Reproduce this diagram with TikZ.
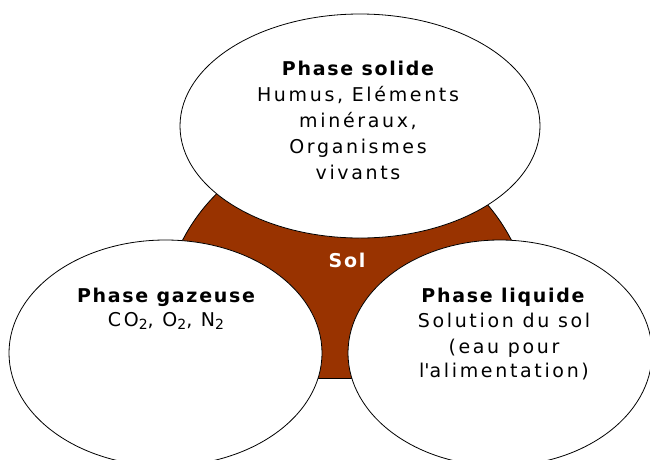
\documentclass[tikz,border=0pt]{standalone}
\usepackage{fontspec}
\setmainfont{DejaVu Sans}[LetterSpace=14,BoldFeatures={LetterSpace=9}]
\usetikzlibrary{shapes.geometric}
\definecolor{soilbrown}{RGB}{153,51,0}
\newcommand{\bigsub}[1]{\raisebox{-0.18em}{\fontsize{14}{14}\selectfont #1}}
\begin{document}
\begin{tikzpicture}[x=1pt,y=-1pt,line width=0.8pt,
  phase/.style={ellipse,draw=black,fill=white,inner sep=0pt},
  txt/.style={anchor=base,inner sep=0pt,font=\fontsize{19}{19}\selectfont},
  head/.style={anchor=base,inner sep=0pt,font=\fontsize{19}{19}\selectfont\bfseries}]
\useasboundingbox (0,0) rectangle (650,459);
\fill[white] (0,0) rectangle (650,459);
% soil (brown) region behind the three phases
\begin{scope}
  \clip (0,0) rectangle (650,378);
  \node[circle,draw=black,fill=soilbrown,minimum size=370pt,inner sep=0pt] (sol) at (347,325) {};
\end{scope}
\coordinate (bl) at (170,378);
\coordinate (br) at (524,378);
\draw (bl) -- (br);
% phases
\node[phase,minimum width=360pt,minimum height=224pt] (solide) at (360,126) {};
\node[phase,minimum width=313pt,minimum height=226pt] (gaz) at (165.5,353) {};
\node[phase,minimum width=304pt,minimum height=226pt] (liq) at (500,353) {};
% texts
\node[head] (ts1) at (358,75) {Phase solide};
\node[txt] (ts2) at (358,101) {Humus, Eléments};
\node[txt] (ts3) at (358,127) {minéraux,};
\node[txt] (ts4) at (358,153) {Organismes};
\node[txt] (ts5) at (358,179) {vivants};
\node[head] (tg1) at (166,302) {Phase gazeuse};
\node[txt] (tg2) at (166,326) {CO\bigsub{2}, O\bigsub{2}, N\bigsub{2}};
\node[head] (tl1) at (503,302) {Phase liquide};
\node[txt] (tl2) at (504,327) {Solution du sol};
\node[txt] (tl3) at (504,353) {(eau pour};
\node[txt] (tl4) at (504,377) {l\textquotesingle alimentation)};
\node[head,text=white] (soltxt) at (347,267) {Sol};
\end{tikzpicture}
\end{document}
